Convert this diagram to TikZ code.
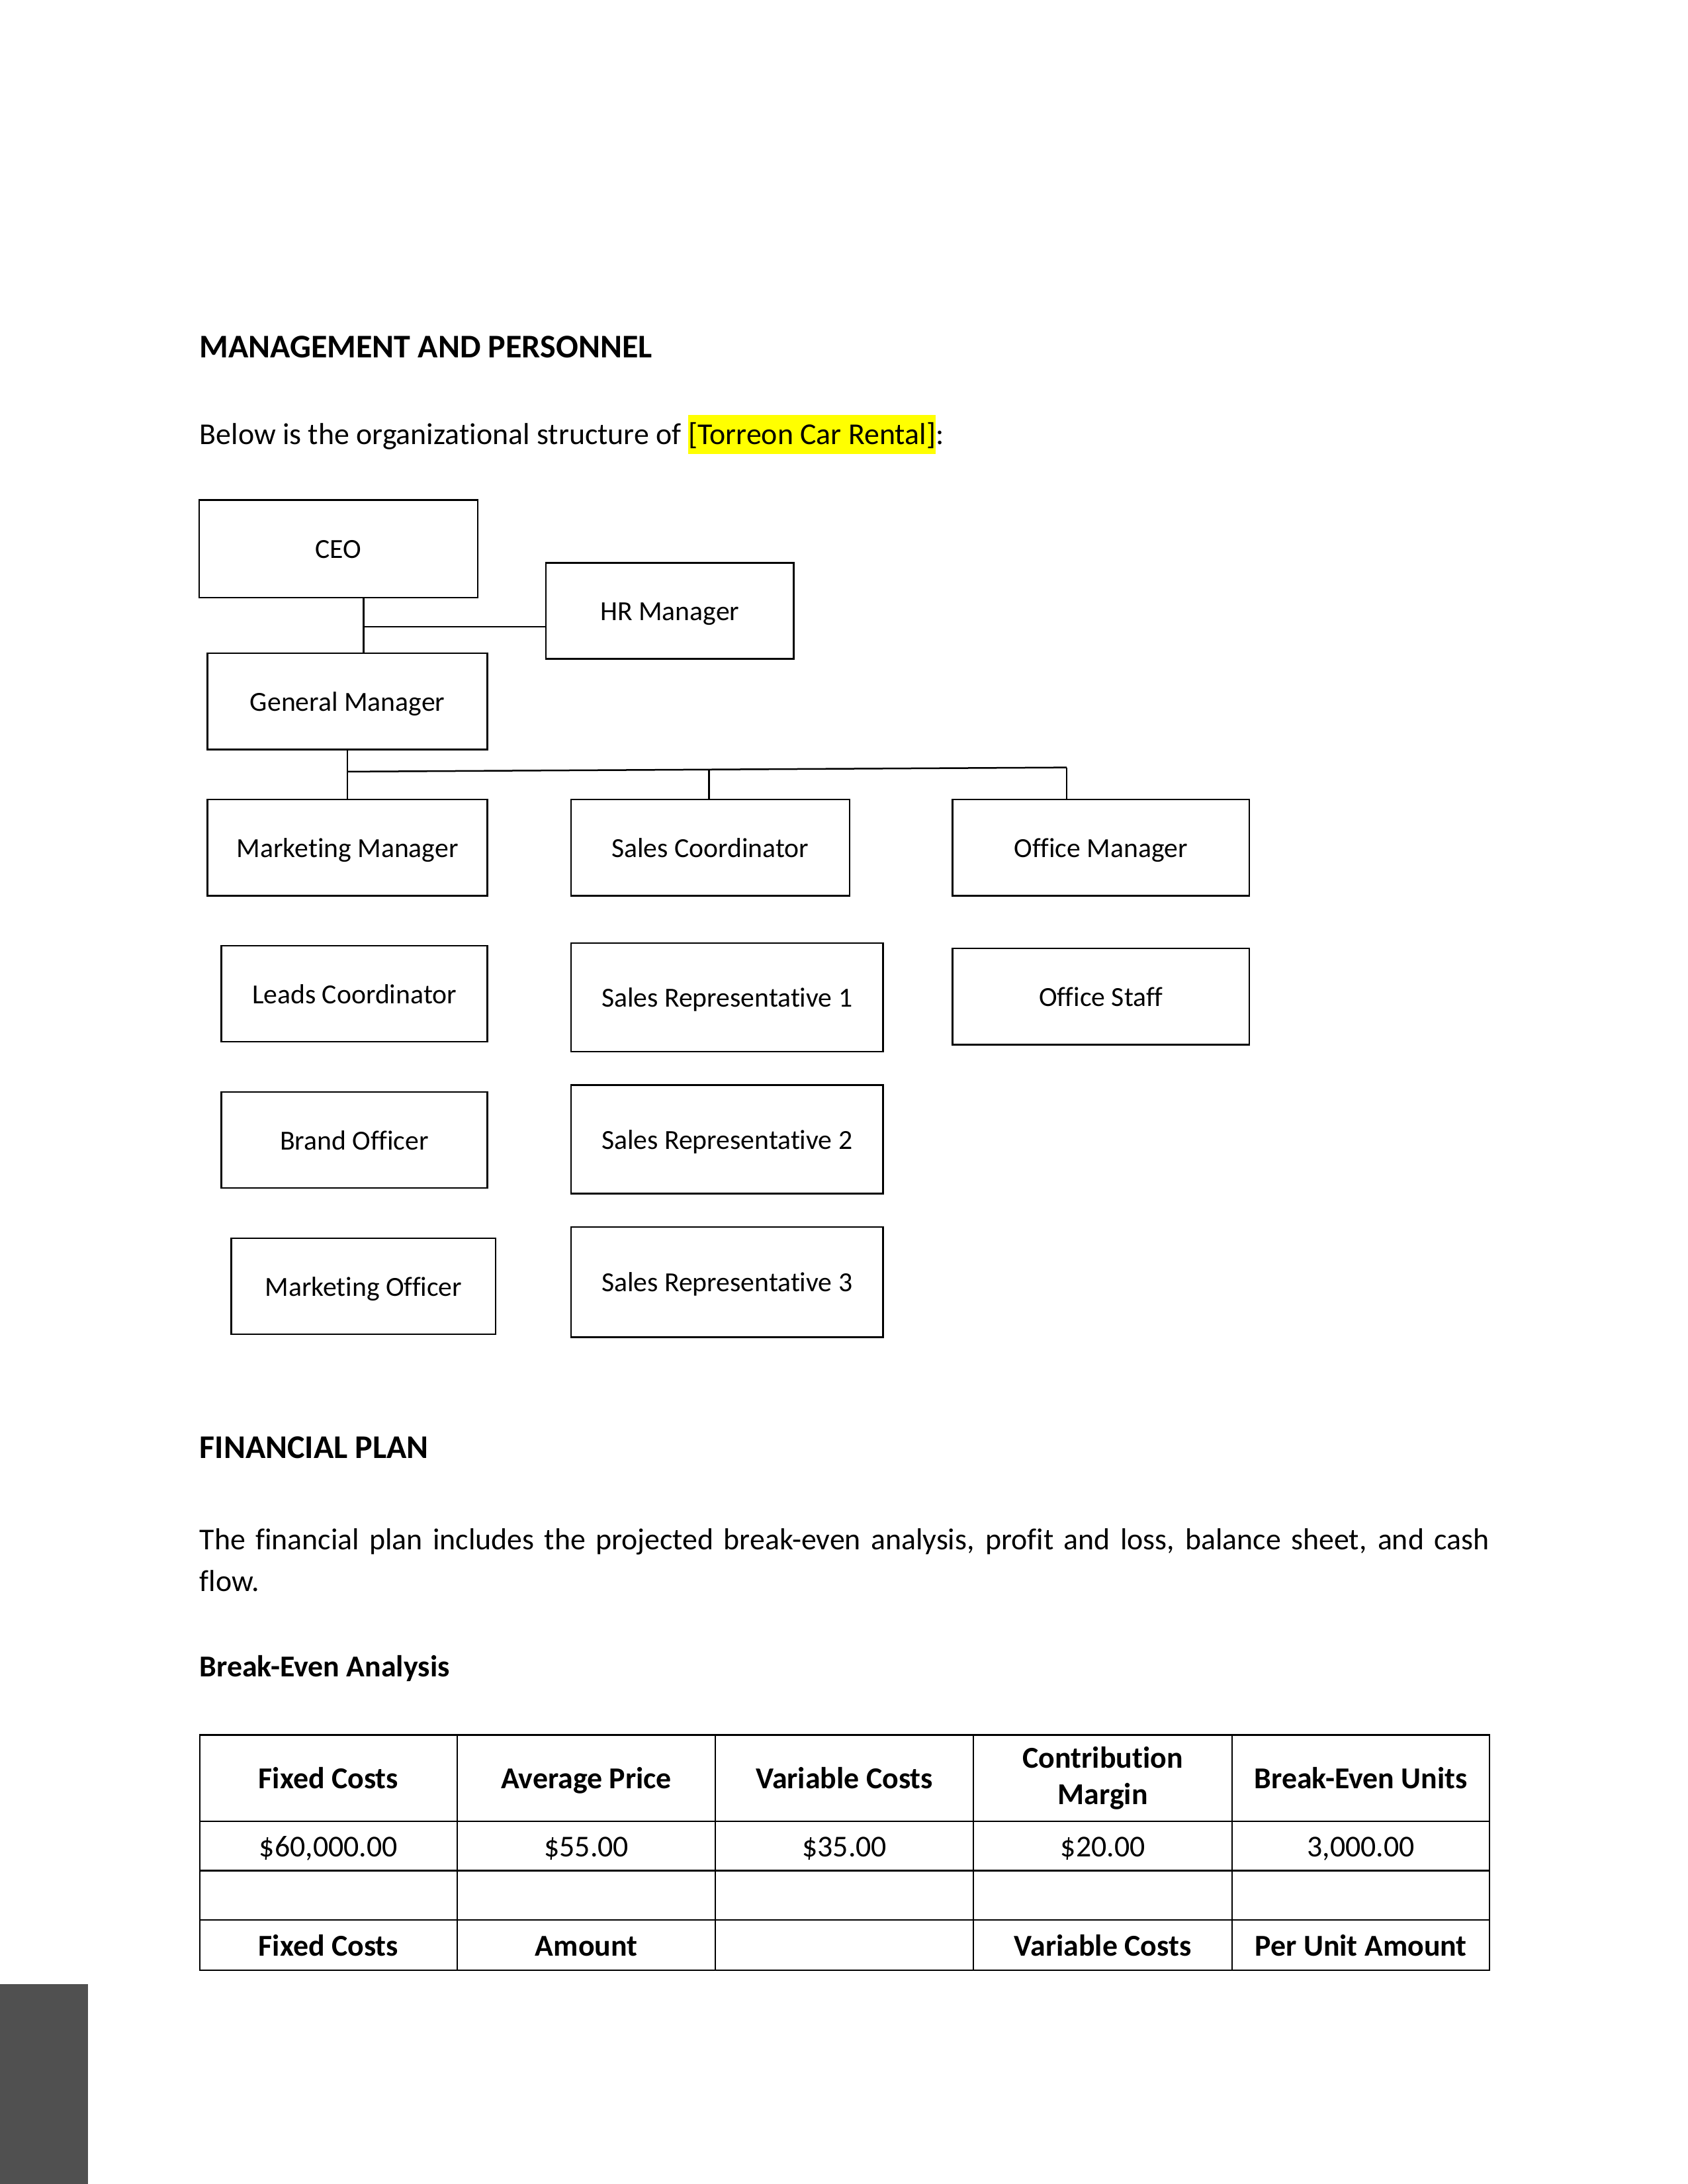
\documentclass[tikz,border=0pt]{standalone}
\usepackage{fontspec}
\setmainfont[Ligatures=NoCommon]{Carlito}
\definecolor{hl}{RGB}{255,255,0}
\definecolor{sidegray}{RGB}{80,80,80}
\begin{document}
\begin{tikzpicture}[x=0.50495pt,y=-0.50495pt,
  box/.style 2 args={draw, line width=0.6pt, minimum width=#1*0.50495pt, minimum height=#2*0.50495pt, inner sep=0pt, text height=7.6pt, text depth=0.6pt, font=\fontsize{10}{12}\selectfont},
  cell/.style 2 args={draw, line width=0.5pt, minimum width=#1*0.50495pt, minimum height=#2*0.50495pt, inner sep=0pt, align=center, font=\fontsize{11}{13}\selectfont},
  one/.style={text height=8.3pt, text depth=0.6pt},
  bf/.style={font=\fontsize{11}{13}\selectfont\bfseries},
  head/.style={anchor=base west, inner sep=0pt, font=\fontsize{12}{14}\selectfont\bfseries},
  subhead/.style={anchor=base west, inner sep=0pt, font=\fontsize{11}{13}\selectfont\bfseries},
  body/.style={anchor=base west, inner sep=0pt, font=\fontsize{11}{15.1}\selectfont},
  link/.style={line width=0.6pt}]
\useasboundingbox (0,0) rectangle (1212,1568);
\fill[white] (0,0) rectangle (1212,1568);
% headings and text
\node[head] (h1) at (143,257) {MANAGEMENT AND PERSONNEL};
\node[body] (intro) at (143,319) {Below is the organizational structure of {\setlength\fboxsep{0pt}\colorbox{hl}{\rule[-3.5pt]{0pt}{14.1pt}[Torreon Car Rental]}}:};
% org chart
\node[box={200}{70}] (ceo) at (243,394) {CEO};
\node[box={178}{69}] (hr) at (481,438.5) {HR Manager};
\node[box={201}{69}] (gm) at (249.5,503.5) {General Manager};
\node[box={201}{69}] (mm) at (249.5,608.5) {Marketing Manager};
\node[box={200}{69}] (sc) at (510,608.5) {Sales Coordinator};
\node[box={213}{69}] (om) at (790.5,608.5) {Office Manager};
\node[box={191}{69}] (lc) at (254.5,713.5) {Leads Coordinator};
\node[box={224}{78}] (sr1) at (522,716) {Sales Representative 1};
\node[box={213}{69}] (os) at (790.5,715.5) {Office Staff};
\node[box={191}{69}] (bo) at (254.5,818.5) {Brand Officer};
\node[box={224}{78}] (sr2) at (522,818) {Sales Representative 2};
\node[box={190}{69}] (mo) at (261,923.5) {Marketing Officer};
\node[box={224}{79}] (sr3) at (522,920.5) {Sales Representative 3};
% connectors
\coordinate (j1) at (261,450);
\draw[link] (ceo.south -| j1) -- (gm.north -| j1);
\draw[link] (j1) -- (j1 -| hr.west);
\coordinate (b1) at (249.5,554);
\coordinate (b2) at (509,552.5);
\coordinate (b3) at (766,551);
\draw[link] (gm.south) -- (mm.north);
\draw[link] (b1) -- (b3);
\draw[link] (b2) -- (sc.north -| b2);
\draw[link] (b3) -- (om.north -| b3);
% financial plan
\node[head] (h2) at (143,1047) {FINANCIAL PLAN};
\node[anchor=north west, inner sep=0pt, text width=926*0.50495pt, align=justify, font=\fontsize{11}{15.1}\selectfont] (para) at (143,1097) {The financial plan includes the projected break-even analysis, profit and loss, balance sheet, and cash\linebreak flow.};
\node[subhead] (h3) at (143,1204) {Break-Even Analysis};
% table
\node[cell={184.9}{61.9}, bf, one] (t11) at (235.85,1276.55) {Fixed Costs};
\node[cell={185.5}{61.9}, bf, one] (t12) at (421.05,1276.55) {Average Price};
\node[cell={185.2}{61.9}, bf, one] (t13) at (606.4,1276.55) {Variable Costs};
\node[cell={185.8}{61.9}, font=\fontsize{11}{13.2}\selectfont\bfseries] (t14) at (791.9,1276.55) {Contribution\\Margin};
\node[cell={184.9}{61.9}, bf, one] (t15) at (977.25,1276.55) {Break-Even Units};
\node[cell={184.9}{35.5}, one] (t21) at (235.85,1325.25) {\$60,000.00};
\node[cell={185.5}{35.5}, one] (t22) at (421.05,1325.25) {\$55.00};
\node[cell={185.2}{35.5}, one] (t23) at (606.4,1325.25) {\$35.00};
\node[cell={185.8}{35.5}, one] (t24) at (791.9,1325.25) {\$20.00};
\node[cell={184.9}{35.5}, one] (t25) at (977.25,1325.25) {3,000.00};
\node[cell={184.9}{35.6}] (t31) at (235.85,1360.8) {};
\node[cell={185.5}{35.6}] (t32) at (421.05,1360.8) {};
\node[cell={185.2}{35.6}] (t33) at (606.4,1360.8) {};
\node[cell={185.8}{35.6}] (t34) at (791.9,1360.8) {};
\node[cell={184.9}{35.6}] (t35) at (977.25,1360.8) {};
\node[cell={184.9}{35.7}, bf, one] (t41) at (235.85,1396.45) {Fixed Costs};
\node[cell={185.5}{35.7}, bf, one] (t42) at (421.05,1396.45) {Amount};
\node[cell={185.2}{35.7}] (t43) at (606.4,1396.45) {};
\node[cell={185.8}{35.7}, bf, one] (t44) at (791.9,1396.45) {Variable Costs};
\node[cell={184.9}{35.7}, bf, one] (t45) at (977.25,1396.45) {Per Unit Amount};
% side bar
\fill[sidegray] (0,1424.5) rectangle (63.3,1568);
\end{tikzpicture}
\end{document}
